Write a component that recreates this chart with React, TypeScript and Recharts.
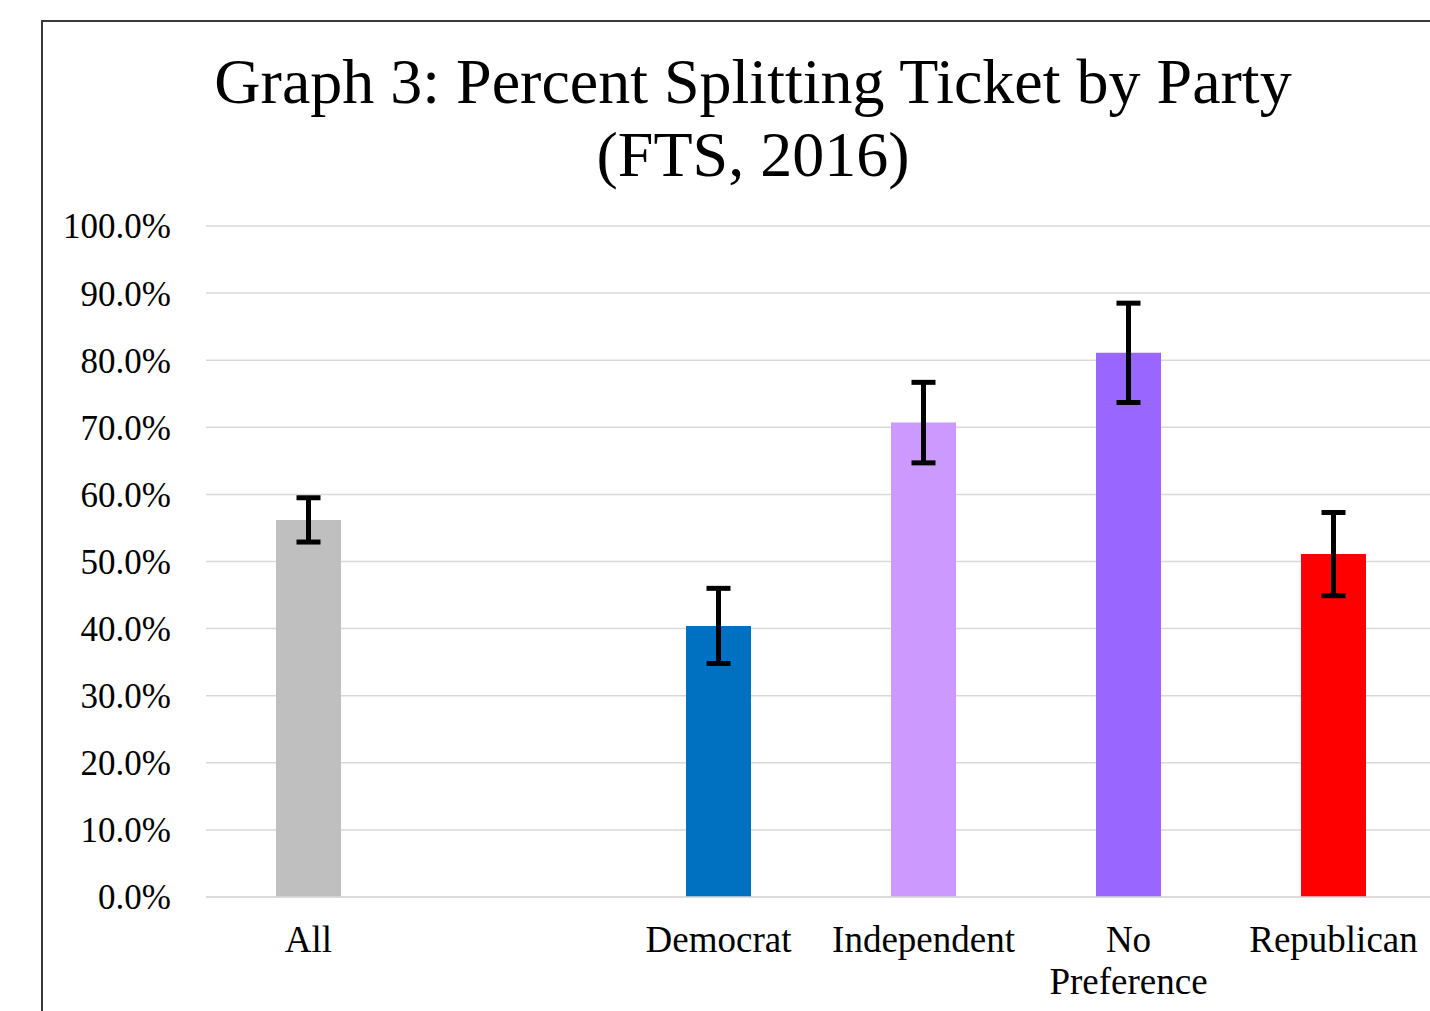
import React from 'react';
import { BarChart, Bar, XAxis, YAxis, CartesianGrid, ErrorBar, Cell } from 'recharts';

// Kategori, nilai, dan error bar (persen)
const categories = ['All', '', 'Democrat', 'Independent', 'No Preference', 'Republican'];
const values: (number | null)[] = [56.2, null, 40.4, 70.7, 81.1, 51.1];
const errors: (number | undefined)[] = [3.3, undefined, 5.6, 6.0, 7.4, 6.2];
const colors = ['#BFBFBF', '#FFFFFF', '#0070C0', '#CC99FF', '#9966FF', '#FF0000'];
const yTicks = [0, 10, 20, 30, 40, 50, 60, 70, 80, 90, 100];

const FONT = '"Liberation Serif", "Times New Roman", serif';

const data = categories.map((name, i) => ({
  name,
  value: values[i],
  err: errors[i],
}));

// Label sumbu X: label panjang dipecah jadi 2 baris (No Preference)
const XTick = (props: any) => {
  const { x, y, payload } = props;
  const label: string = payload.value ?? '';
  const lines = label.length > 12 ? label.split(' ') : [label];
  return (
    <text x={x} y={y + 26} textAnchor="middle" fontSize={37} fontFamily={FONT} fill="#000">
      {lines.map((ln, i) => (
        <tspan key={i} x={x} dy={i === 0 ? 0 : 42}>
          {ln}
        </tspan>
      ))}
    </text>
  );
};

export default function App() {
  return (
    <div style={{ position: 'absolute', left: 0, top: 0, width: 1430, height: 1011, overflow: 'hidden', background: '#fff' }}>
      {/* Bingkai chart */}
      <div style={{ position: 'absolute', left: 41, top: 20, width: 1500, height: 1100, border: '2px solid #3a3a3a', boxSizing: 'border-box' }} />

      {/* Judul */}
      <div
        style={{
          position: 'absolute',
          left: 103,
          top: 45,
          width: 1300,
          textAlign: 'center',
          fontFamily: FONT,
          fontSize: 64,
          lineHeight: '73px',
          color: '#000',
          whiteSpace: 'nowrap',
        }}
      >
        Graph 3: Percent Splitting Ticket by Party
        <br />
        (FTS, 2016)
      </div>

      <div style={{ position: 'absolute', left: 0, top: 0 }}>
        <BarChart
          width={1440}
          height={1011}
          data={data}
          margin={{ top: 226, right: 4, left: 0, bottom: 0 }}
        >
          <CartesianGrid vertical={false} stroke="#D9D9D9" strokeWidth={1.5} />
          <XAxis
            dataKey="name"
            tickLine={false}
            tickSize={0}
            tickMargin={29}
            axisLine={{ stroke: '#D9D9D9', strokeWidth: 1.5 }}
            tick={<XTick />}
            interval={0}
            height={114}
          />
          <YAxis
            width={206}
            domain={[0, 100]}
            ticks={yTicks}
            tickFormatter={(v) => `${Number(v).toFixed(1)}%`}
            axisLine={false}
            tickLine={false}
            tickSize={0}
            tickMargin={35}
            tick={{ fontSize: 35, fontFamily: FONT, fill: '#000' }}
            interval={0}
          />
          <Bar dataKey="value" barSize={65} isAnimationActive={false}>
            {data.map((d, i) => (
              <Cell key={d.name + i} fill={colors[i]} />
            ))}
            <ErrorBar dataKey="err" width={12} strokeWidth={5} stroke="#000" direction="y" />
          </Bar>
        </BarChart>
      </div>
    </div>
  );
}
